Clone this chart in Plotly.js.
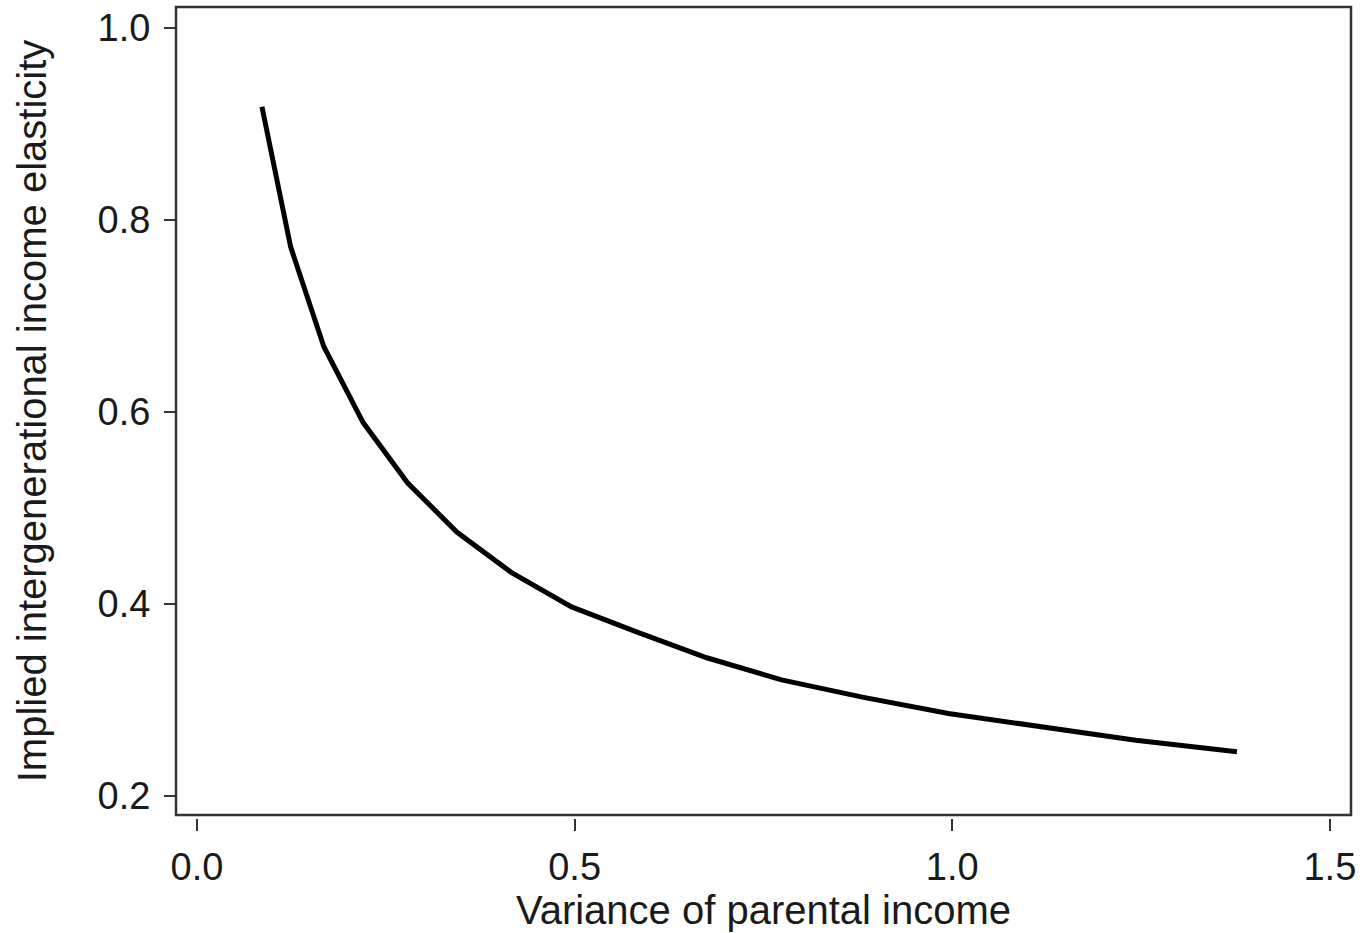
<!DOCTYPE html>
<html>
<head>
<meta charset="utf-8">
<script src="https://cdn.plot.ly/plotly-3.0.1.min.js"></script>
<style>html,body{margin:0;padding:0;background:#fff;}#chart{width:1364px;height:933px;}</style>
</head>
<body>
<div id="chart"></div>
<script>
// Variance of parental income (x) and implied intergenerational income elasticity (y)
const parentalVariance = [0.086, 0.124, 0.168, 0.220, 0.279, 0.344, 0.416, 0.496, 0.582, 0.675, 0.774, 0.881, 0.995, 1.115, 1.243, 1.377];
const elasticity      = [0.918, 0.772, 0.668, 0.589, 0.526, 0.475, 0.433, 0.397, 0.371, 0.344, 0.321, 0.303, 0.286, 0.272, 0.258, 0.246];
const xTickVals = [0, 0.5, 1.0, 1.5];
const xTickText = ['0.0', '0.5', '1.0', '1.5'];
const yTickVals = [0.2, 0.4, 0.6, 0.8, 1.0];
const yTickText = ['0.2', '0.4', '0.6', '0.8', '1.0'];

const fontFam = 'Liberation Sans, Arial, Helvetica, sans-serif';

const trace = {
  x: parentalVariance,
  y: elasticity,
  type: 'scatter',
  mode: 'lines',
  line: {color: '#000000', width: 5},
  hoverinfo: 'skip'
};

const layout = {
  width: 1364,
  height: 933,
  margin: {l: 176, r: 13, t: 7, b: 115, pad: 0},
  paper_bgcolor: '#ffffff',
  plot_bgcolor: '#ffffff',
  showlegend: false,
  font: {family: fontFam, color: '#1a1a1a'},
  xaxis: {
    range: [-0.0278, 1.528],
    tickvals: xTickVals,
    ticktext: xTickText,
    ticks: 'outside',
    ticklen: 12,
    tickwidth: 2,
    tickcolor: '#333333',
    showline: false,
    showgrid: false,
    zeroline: false,
    anchor: 'free',
    position: 0,
    tickfont: {family: fontFam, size: 38, color: '#1a1a1a'},
    ticklabelstandoff: 3,
    title: {text: 'Variance of parental income', font: {family: fontFam, size: 40, color: '#1a1a1a'}, standoff: 6}
  },
  yaxis: {
    domain: [0.0037, 1],
    range: [0.1802, 1.0219],
    tickvals: yTickVals,
    ticktext: yTickText,
    ticks: 'outside',
    ticklen: 11,
    tickwidth: 2,
    tickcolor: '#333333',
    showline: false,
    showgrid: false,
    zeroline: false,
    tickfont: {family: fontFam, size: 38, color: '#1a1a1a'},
    ticklabelstandoff: 6,
    title: {text: 'Implied intergenerational income elasticity', font: {family: fontFam, size: 40, color: '#1a1a1a'}, standoff: 38}
  },
  shapes: [{
    type: 'rect', xref: 'x domain', yref: 'y domain',
    x0: 0, x1: 1, y0: 0, y1: 1,
    line: {color: '#333333', width: 2.5},
    fillcolor: 'rgba(0,0,0,0)',
    layer: 'above'
  }]
};

Plotly.newPlot('chart', [trace], layout, {displayModeBar: false, staticPlot: true});
</script>
</body>
</html>
